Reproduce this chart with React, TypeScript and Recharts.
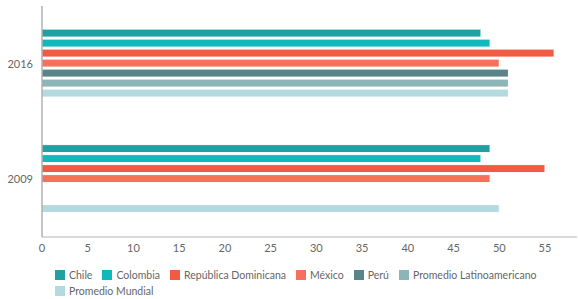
import React from "react";
import { BarChart, Bar, XAxis, YAxis, Legend } from "recharts";

const years = ["2016", "2009"];
const chile = [48, 49];
const colombia = [49, 48];
const republicaDominicana = [56, 55];
const mexico = [50, 49];
const peru = [51, null];
const promedioLatam = [51, null];
const promedioMundial = [51, 50];
const xTicks = [0, 5, 10, 15, 20, 25, 30, 35, 40, 45, 50, 55];

const series = [
  { key: "chile", name: "Chile", color: "#21A0A3", values: chile },
  { key: "colombia", name: "Colombia", color: "#12B9BC", values: colombia },
  { key: "rd", name: "República Dominicana", color: "#F15B42", values: republicaDominicana },
  { key: "mexico", name: "México", color: "#F5715C", values: mexico },
  { key: "peru", name: "Perú", color: "#5A8487", values: peru },
  { key: "latam", name: "Promedio Latinoamericano", color: "#8DB5B8", values: promedioLatam },
  { key: "mundial", name: "Promedio Mundial", color: "#B3DADE", values: promedioMundial },
];

const data = years.map((y, i) => {
  const row: any = { year: y };
  series.forEach((s) => {
    row[s.key] = s.values[i];
  });
  return row;
});

const FONT = "Lato, 'Open Sans', sans-serif";

const LegendContent = () => (
  <div
    style={{
      display: "flex",
      flexWrap: "wrap",
      width: 500,
      marginLeft: 55,
      paddingTop: 6,
      fontFamily: FONT,
      fontSize: 10.5,
      color: "#666",
      rowGap: 4,
      lineHeight: "12px",
    }}
  >
    {series.map((s, i) => (
      <div
        key={s.key}
        style={{
          display: "flex",
          alignItems: "center",
          marginRight: 10,
          height: 12,
          flexBasis: i === series.length - 1 ? "100%" : "auto",
        }}
      >
        <span style={{ width: 10, height: 10, background: s.color, display: "inline-block", marginRight: 4 }} />
        <span>{s.name}</span>
      </div>
    ))}
  </div>
);

export default function App() {
  return (
    <div style={{ position: "absolute", left: 0, top: 0, background: "#fff" }}>
      <BarChart
        width={578}
        height={299}
        data={data}
        layout="vertical"
        margin={{ top: 6, right: 1, left: 0, bottom: 0 }}
        barCategoryGap="20%"
        barGap={2}
      >
        <XAxis
          type="number"
          domain={[0, 58.5]}
          ticks={xTicks}
          tickLine={false}
          axisLine={{ stroke: "#ccc", strokeWidth: 1.5 }}
          tick={{ fill: "#666", fontSize: 11, fontFamily: FONT }}
          tickSize={0}
          tickMargin={7}
          height={26}
          allowDataOverflow
        />
        <YAxis
          type="category"
          dataKey="year"
          width={42}
          tickLine={false}
          axisLine={{ stroke: "#8a8a8a", strokeWidth: 1 }}
          tick={{ fill: "#666", fontSize: 11, fontFamily: FONT }}
          tickSize={0}
          tickMargin={9}
        />
        <Legend
          content={<LegendContent />}
          verticalAlign="bottom"
          wrapperStyle={{ bottom: 0, left: 0, height: 36, width: 578 }}
        />
        {series.map((s) => (
          <Bar
            key={s.key}
            dataKey={s.key}
            name={s.name}
            fill={s.color}
            stroke="#fff"
            strokeWidth={1}
            isAnimationActive={false}
          />
        ))}
      </BarChart>
    </div>
  );
}
